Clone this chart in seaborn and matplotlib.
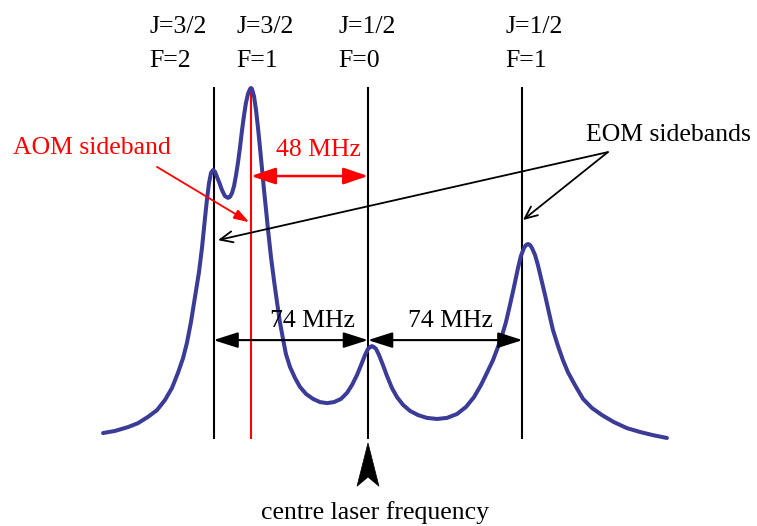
import matplotlib
matplotlib.use("Agg")
import matplotlib.pyplot as plt
from matplotlib.patches import Polygon
import seaborn as sns
import pandas as pd

# Schematic spectrum: detuning in units of the 74 MHz level spacing
# (F=0 at zero), signal normalised to the tallest peak.
detuning = [-1.715, -1.638, -1.553, -1.489, -1.424, -1.366, -1.314, -1.269, -1.230, -1.197,
            -1.172, -1.146, -1.120, -1.094, -1.074, -1.055, -1.042, -1.029, -1.016, -1.003,
            -0.990, -0.977, -0.964, -0.945, -0.926, -0.906, -0.893, -0.880, -0.867, -0.854,
            -0.841, -0.828, -0.816, -0.803, -0.790, -0.777, -0.764, -0.757, -0.751, -0.738,
            -0.725, -0.712, -0.699, -0.686, -0.673, -0.660, -0.647, -0.628, -0.608, -0.589,
            -0.570, -0.550, -0.531, -0.505, -0.472, -0.440, -0.401, -0.356, -0.311, -0.265,
            -0.220, -0.175, -0.136, -0.104, -0.071, -0.045, -0.019, 0.000, 0.013, 0.026,
            0.039, 0.052, 0.071, 0.097, 0.123, 0.155, 0.188, 0.227, 0.272, 0.324,
            0.382, 0.447, 0.511, 0.576, 0.634, 0.686, 0.731, 0.770, 0.809, 0.841,
            0.867, 0.893, 0.919, 0.945, 0.971, 0.990, 1.010, 1.023, 1.036, 1.049,
            1.061, 1.081, 1.100, 1.120, 1.146, 1.172, 1.197, 1.230, 1.262, 1.294,
            1.340, 1.392, 1.450, 1.515, 1.592, 1.676, 1.761, 1.845, 1.935]
signal = [0.017, 0.023, 0.034, 0.045, 0.063, 0.082, 0.111, 0.145, 0.188, 0.230,
          0.273, 0.332, 0.403, 0.474, 0.545, 0.628, 0.682, 0.727, 0.756, 0.764,
          0.759, 0.744, 0.730, 0.707, 0.690, 0.685, 0.688, 0.699, 0.719, 0.750,
          0.787, 0.830, 0.875, 0.918, 0.955, 0.980, 0.994, 0.997, 0.994, 0.974,
          0.935, 0.884, 0.827, 0.767, 0.707, 0.651, 0.594, 0.517, 0.449, 0.389,
          0.332, 0.284, 0.241, 0.205, 0.173, 0.148, 0.128, 0.114, 0.105, 0.102,
          0.105, 0.114, 0.131, 0.153, 0.182, 0.210, 0.239, 0.256, 0.261, 0.264,
          0.261, 0.256, 0.239, 0.210, 0.179, 0.145, 0.119, 0.097, 0.080, 0.068,
          0.060, 0.057, 0.060, 0.071, 0.091, 0.119, 0.153, 0.188, 0.224, 0.261,
          0.293, 0.332, 0.381, 0.432, 0.486, 0.520, 0.543, 0.551, 0.554, 0.551,
          0.543, 0.523, 0.494, 0.457, 0.409, 0.358, 0.310, 0.264, 0.224, 0.190,
          0.153, 0.114, 0.088, 0.068, 0.048, 0.031, 0.020, 0.011, 0.003]

# Hyperfine levels (black markers) and the AOM sideband (red marker)
level_pos = [-1.0, 0.0, 1.0]
aom_pos = -0.757
level_J = ["J=3/2", "J=3/2", "J=1/2", "J=1/2"]
level_F = ["F=2", "F=1", "F=0", "F=1"]
spacing_mhz = [74, 74]
aom_shift_mhz = 48

sns.set_theme(style="white")
plt.rcParams["font.family"] = ["Liberation Serif", "DejaVu Serif"]
plt.rcParams["text.color"] = "black"

fig = plt.figure(figsize=(7.57, 5.26), dpi=100, facecolor="white")
ax = fig.add_axes([0, 0, 1, 1])
ax.set_xlim(-2.382, 2.518)
ax.set_ylim(-0.247, 1.247)
ax.axis("off")

FS = 18.5
CURVE = "#3b3b98"
RED = "#ff0000"

# vertical marker lines
for xp in level_pos:
    ax.plot([xp, xp], [0, 1], color="black", lw=1.5, solid_capstyle="butt")
ax.plot([aom_pos, aom_pos], [0, 1], color=RED, lw=1.5, solid_capstyle="butt")

# spectrum
df = pd.DataFrame({"detuning": detuning, "signal": signal})
sns.lineplot(data=df, x="detuning", y="signal", ax=ax, color=CURVE, lw=2.9,
             sort=False, estimator=None)
ax.lines[-1].set_solid_joinstyle("round")
ax.lines[-1].set_solid_capstyle("round")
ax.set_xlabel("")
ax.set_ylabel("")

# level labels
label_x = [-1.417, -0.854, -0.194, 0.887]
for lx, j, f in zip(label_x, level_J, level_F):
    ax.text(lx, 1.153, j, fontsize=FS, ha="left", va="baseline", color="black")
    ax.text(lx, 1.057, f, fontsize=FS, ha="left", va="baseline", color="black")

# 74 MHz spacing arrows
dbl = dict(arrowstyle="<|-|>,head_length=0.5,head_width=0.16", mutation_scale=30,
           lw=1.5, color="black", shrinkA=0, shrinkB=0)
ax.annotate("", xy=(level_pos[0], 0.281), xytext=(level_pos[1], 0.281), arrowprops=dbl)
ax.annotate("", xy=(level_pos[1], 0.281), xytext=(level_pos[2], 0.281), arrowprops=dbl)
ax.text(-0.362, 0.318, f"{spacing_mhz[0]} MHz", fontsize=FS, ha="center", va="baseline",
        color="black")
ax.text(0.531, 0.318, f"{spacing_mhz[1]} MHz", fontsize=FS, ha="center", va="baseline",
        color="black")

# AOM shift arrow
red_dbl = dict(arrowstyle="<|-|>,head_length=0.5,head_width=0.17", mutation_scale=30,
               lw=1.8, color=RED, shrinkA=0, shrinkB=0)
ax.annotate("", xy=(aom_pos, 0.747), xytext=(level_pos[1], 0.747), arrowprops=red_dbl)
ax.text(-0.324, 0.804, f"{aom_shift_mhz} MHz", fontsize=FS, ha="center", va="baseline",
        color=RED)

# AOM sideband callout
ax.text(-2.298, 0.811, "AOM sideband", fontsize=FS, ha="left", va="baseline", color=RED)
ax.annotate("", xy=(-0.770, 0.616), xytext=(-1.366, 0.773),
            arrowprops=dict(arrowstyle="-|>,head_length=0.45,head_width=0.15",
                            mutation_scale=20, lw=1.3, color=RED,
                            shrinkA=0, shrinkB=0))

# EOM sidebands callout
ax.text(1.411, 0.847, "EOM sidebands", fontsize=FS, ha="left", va="baseline", color="black")
open_arrow = dict(arrowstyle="->,head_length=0.45,head_width=0.2", mutation_scale=20,
                  lw=1.3, color="black", shrinkA=0, shrinkB=0)
ax.annotate("", xy=(1.003, 0.622), xytext=(1.553, 0.815), arrowprops=open_arrow)
ax.annotate("", xy=(-0.971, 0.565), xytext=(1.553, 0.815), arrowprops=open_arrow)

# centre laser frequency pointer
cx = level_pos[1]
ax.add_patch(Polygon([(cx, -0.011), (cx + 0.071, -0.134), (cx, -0.108), (cx - 0.071, -0.134)],
                     closed=True, facecolor="black", edgecolor="black", lw=0.5))
ax.text(0.045, -0.227, "centre laser frequency", fontsize=FS, ha="center", va="baseline",
        color="black")

fig.savefig("out.png", dpi=100, facecolor="white")
